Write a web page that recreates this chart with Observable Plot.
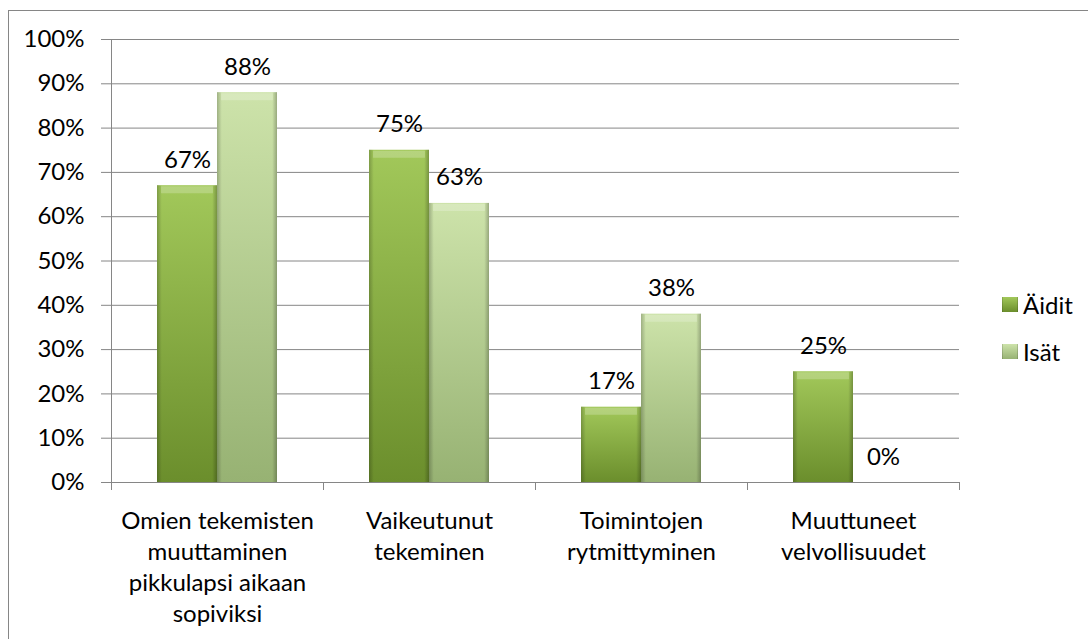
<!DOCTYPE html>
<html><head><meta charset="utf-8">
<script src="https://cdn.jsdelivr.net/npm/d3@7"></script>
<script src="https://cdn.jsdelivr.net/npm/@observablehq/plot@0.6"></script>
<style>
body{margin:0;background:#fff;font-family:Lato,sans-serif;}
#wrap{position:relative;width:1088px;height:639px;overflow:hidden;background:#fff;}
#border{position:absolute;left:8px;top:10px;width:1200px;height:800px;border:1px solid #868686;box-sizing:border-box;}
#chart{position:absolute;left:0;top:0;}
#legend{position:absolute;left:1002px;top:290px;font-family:Lato,sans-serif;font-size:24px;color:#000;}
.item{display:flex;align-items:center;height:28px;margin-bottom:19px;white-space:nowrap;}
.item svg{margin-right:5px;}
</style></head><body>
<div id="wrap"><div id="border"></div><div id="chart"></div><div id="legend"></div></div>
<script>
const categories = [
  "Omien tekemisten muuttaminen pikkulapsi aikaan sopiviksi",
  "Vaikeutunut tekeminen",
  "Toimintojen rytmittyminen",
  "Muuttuneet velvollisuudet"
];
const categoryLines = [
  ["Omien tekemisten", "muuttaminen", "pikkulapsi aikaan", "sopiviksi"],
  ["Vaikeutunut", "tekeminen"],
  ["Toimintojen", "rytmittyminen"],
  ["Muuttuneet", "velvollisuudet"]
];
const seriesNames = ["Äidit", "Isät"];
const aiditValues = [0.67, 0.75, 0.17, 0.25];
const isatValues = [0.88, 0.63, 0.38, 0.00];
const yTicks = [0, 0.1, 0.2, 0.3, 0.4, 0.5, 0.6, 0.7, 0.8, 0.9, 1.0];
const seriesColors = [["#a2c85a", "#6b8e2c"], ["#cde3aa", "#97b273"]];
const gradIds = ["gradA", "gradB"];

const rows = categories.flatMap((c, i) => [
  {category: c, series: seriesNames[0], value: aiditValues[i]},
  {category: c, series: seriesNames[1], value: isatValues[i]}
]);
const pct = d3.format(".0%");
const axisGray = "#868686";

const chart = Plot.plot({
  width: 1088, height: 639,
  marginLeft: 110, marginRight: 128, marginTop: 39, marginBottom: 157,
  style: {fontFamily: "Lato, sans-serif", fontSize: "24px", color: "#000", background: "transparent", overflow: "visible"},
  fx: {domain: categories, padding: 0, axis: null, label: null},
  x: {domain: seriesNames, paddingInner: 0, paddingOuter: 0.74, axis: null},
  y: {domain: [0, 1], axis: null},
  marks: [
    Plot.ruleY(yTicks, {stroke: axisGray, strokeWidth: 1}),
    Plot.frame({anchor: "left", facetAnchor: "left", insetBottom: -7, stroke: axisGray}),
    Plot.frame({anchor: "left", insetTop: 443, insetBottom: -7, stroke: axisGray}),
    Plot.frame({anchor: "right", facetAnchor: "right", insetTop: 443, insetBottom: -7, stroke: axisGray}),
    ...seriesNames.map((s, k) => Plot.barY(rows.filter(d => d.series === s), {
      fx: "category", x: "series", y: "value", fill: `url(#${gradIds[k]})`
    })),
    Plot.barY(rows, {fx: "category", x: "series", y: "value", fill: "url(#edge)"}),
    Plot.tickY(rows.filter(d => d.value > 0), {fx: "category", x: "series", y: "value", stroke: "#fff", strokeOpacity: 0.22, strokeWidth: 7, dy: 4, inset: 4}),
    Plot.text(rows, {fx: "category", x: "series", y: "value", text: d => pct(d.value), lineAnchor: "bottom", dy: -18, fill: "#000"}),
    Plot.axisY(yTicks, {anchor: "left", tickSize: 10, tickPadding: 17, tickFormat: pct, stroke: axisGray, label: null}),
    Plot.axisFx({anchor: "bottom", tickSize: 0, tickPadding: 24, lineHeight: 1.3,
      tickFormat: c => categoryLines[categories.indexOf(c)].join("\n"), label: null})
  ]
});

function addGradients(svgSel) {
  const defs = svgSel.insert("defs", ":first-child");
  gradIds.forEach((id, k) => {
    const g = defs.append("linearGradient").attr("id", id).attr("x1", 0).attr("y1", 0).attr("x2", 0).attr("y2", 1);
    g.append("stop").attr("offset", "0%").attr("stop-color", seriesColors[k][0]);
    g.append("stop").attr("offset", "100%").attr("stop-color", seriesColors[k][1]);
  });
  const e = defs.append("linearGradient").attr("id", "edge").attr("x1", 0).attr("y1", 0).attr("x2", 1).attr("y2", 0);
  [[0, 0.22], [0.08, 0], [0.92, 0], [1, 0.25]].forEach(([o, a]) =>
    e.append("stop").attr("offset", o).attr("stop-color", "#000").attr("stop-opacity", a));
}
addGradients(d3.select(chart));
document.getElementById("chart").appendChild(chart);

const legend = d3.select("#legend");
seriesNames.forEach((s, k) => {
  const item = legend.append("div").attr("class", "item");
  const sv = item.append("svg").attr("width", 16).attr("height", 15);
  addGradients(sv);
  sv.append("rect").attr("width", 16).attr("height", 15).attr("fill", `url(#${gradIds[k]})`);
  sv.append("rect").attr("width", 16).attr("height", 15).attr("fill", "url(#edge)");
  item.append("span").text(s);
});
</script>
</body></html>
